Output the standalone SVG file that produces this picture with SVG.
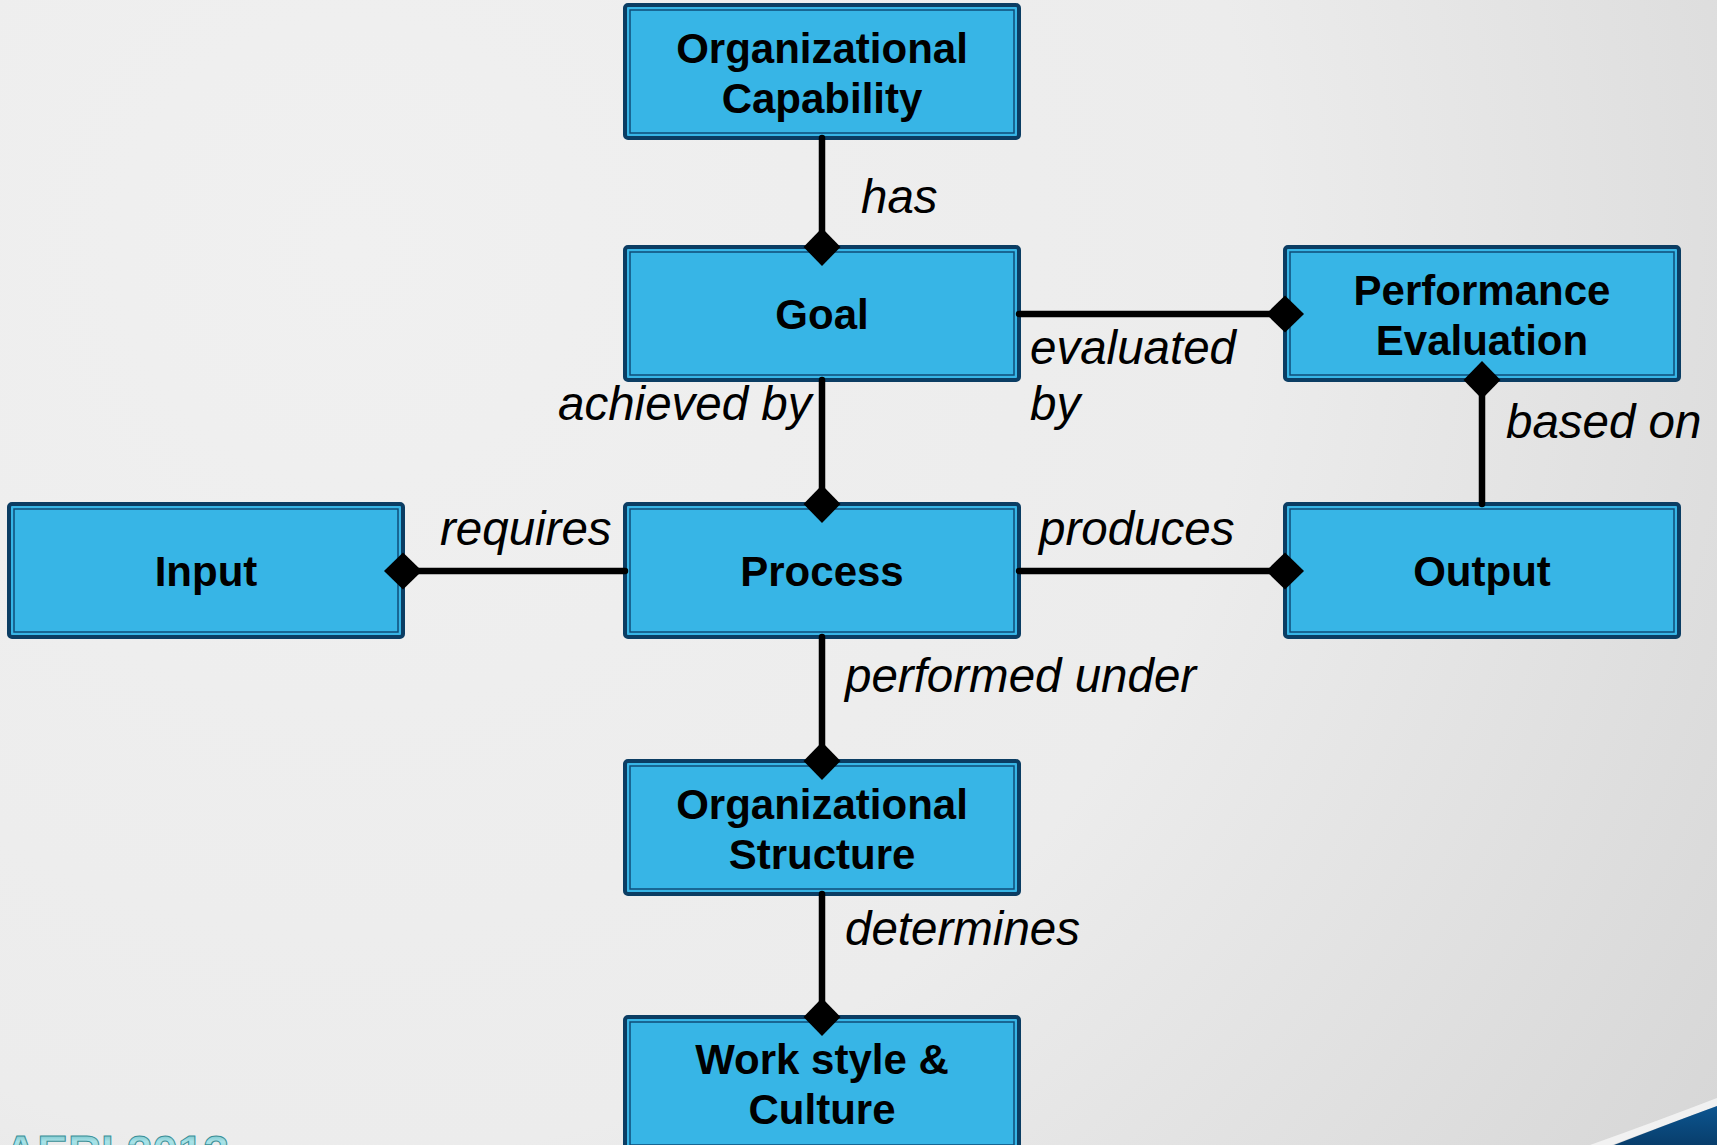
<svg xmlns="http://www.w3.org/2000/svg" width="1717" height="1145" viewBox="0 0 1717 1145">
  <defs>
    <radialGradient id="bg" cx="350" cy="250" r="1650" gradientUnits="userSpaceOnUse">
      <stop offset="0" stop-color="#f0f0f0"/>
      <stop offset="0.55" stop-color="#ececec"/>
      <stop offset="1" stop-color="#d6d6d6"/>
    </radialGradient>
    <linearGradient id="swoosh" x1="0" y1="0" x2="0" y2="1">
      <stop offset="0" stop-color="#0c5590"/>
      <stop offset="1" stop-color="#083e6c"/>
    </linearGradient>
    <linearGradient id="brand" x1="0" y1="0" x2="0" y2="1">
      <stop offset="0" stop-color="#3f9fa8"/>
      <stop offset="0.3" stop-color="#a9e3e8"/>
      <stop offset="1" stop-color="#4fb3bc"/>
    </linearGradient>
    <marker id="dia" viewBox="-20 -20 40 40" refX="0" refY="0" markerWidth="40" markerHeight="40" markerUnits="userSpaceOnUse" orient="auto">
      <path d="M-19,0 L0,-18.5 L19,0 L0,18.5 Z" fill="#000"/>
    </marker>
    <style>
      .box { fill: #37b5e6; stroke: #0b3d63; stroke-width: 4; }
      .inner { fill: none; stroke: #0f4c78; stroke-width: 1.5; }
      .title { font-family: "Liberation Sans", Arial, sans-serif; font-weight: bold; font-size: 42px; fill: #000; text-anchor: middle; }
      .conn { fill: none; stroke: #000; stroke-width: 6.5; stroke-linecap: round; marker-end: url(#dia); }
      .lbl { font-family: "Liberation Sans", Arial, sans-serif; font-style: italic; font-size: 47.5px; fill: #000; }
    </style>
  </defs>

  <!-- backdrop -->
  <rect x="0" y="0" width="1717" height="1145" fill="url(#bg)"/>
  <path d="M1590,1145 Q1660,1120 1717,1098 L1717,1106 Q1665,1125 1612,1145 Z" fill="#f7f7f7" opacity="0.8"/>
  <path d="M1614,1145 Q1668,1124 1717,1106 L1717,1145 Z" fill="url(#swoosh)"/>
  <text x="4" y="1168" font-family="'Liberation Sans', Arial, sans-serif" font-weight="bold" font-size="46" fill="url(#brand)" stroke="#3a8f97" stroke-width="1">AERI 2013</text>

  <!-- nodes -->
  <g id="node-org-capability">
    <rect class="box" x="625" y="5" width="394" height="133" rx="3"/>
    <rect class="inner" x="630" y="10" width="384" height="123"/>
    <text class="title" x="822" y="63">Organizational</text>
    <text class="title" x="822" y="113">Capability</text>
  </g>
  <g id="node-goal">
    <rect class="box" x="625" y="247" width="394" height="133" rx="3"/>
    <rect class="inner" x="630" y="252" width="384" height="123"/>
    <text class="title" x="822" y="329">Goal</text>
  </g>
  <g id="node-performance-evaluation">
    <rect class="box" x="1285" y="247" width="394" height="133" rx="3"/>
    <rect class="inner" x="1290" y="252" width="384" height="123"/>
    <text class="title" x="1482" y="305">Performance</text>
    <text class="title" x="1482" y="355">Evaluation</text>
  </g>
  <g id="node-input">
    <rect class="box" x="9" y="504" width="394" height="133" rx="3"/>
    <rect class="inner" x="14" y="509" width="384" height="123"/>
    <text class="title" x="206" y="586">Input</text>
  </g>
  <g id="node-process">
    <rect class="box" x="625" y="504" width="394" height="133" rx="3"/>
    <rect class="inner" x="630" y="509" width="384" height="123"/>
    <text class="title" x="822" y="586">Process</text>
  </g>
  <g id="node-output">
    <rect class="box" x="1285" y="504" width="394" height="133" rx="3"/>
    <rect class="inner" x="1290" y="509" width="384" height="123"/>
    <text class="title" x="1482" y="586">Output</text>
  </g>
  <g id="node-org-structure">
    <rect class="box" x="625" y="761" width="394" height="133" rx="3"/>
    <rect class="inner" x="630" y="766" width="384" height="123"/>
    <text class="title" x="822" y="819">Organizational</text>
    <text class="title" x="822" y="869">Structure</text>
  </g>
  <g id="node-work-style">
    <rect class="box" x="625" y="1017" width="394" height="133" rx="3"/>
    <rect class="inner" x="630" y="1022" width="384" height="123"/>
    <text class="title" x="822" y="1074">Work style &amp;</text>
    <text class="title" x="822" y="1124">Culture</text>
  </g>

  <!-- connectors -->
  <g id="connectors">
    <path class="conn" d="M822,138 L822,247"/>
    <path class="conn" d="M1019,314 L1285,314"/>
    <path class="conn" d="M822,380 L822,504"/>
    <path class="conn" d="M1482,504 L1482,380"/>
    <path class="conn" d="M625,571 L403,571"/>
    <path class="conn" d="M1019,571 L1285,571"/>
    <path class="conn" d="M822,637 L822,761"/>
    <path class="conn" d="M822,894 L822,1017"/>
  </g>

  <!-- connector labels -->
  <g id="labels">
    <text class="lbl" x="861" y="213">has</text>
    <text class="lbl" x="1030" y="364">evaluated</text>
    <text class="lbl" x="1030" y="420">by</text>
    <text class="lbl" x="558" y="420">achieved by</text>
    <text class="lbl" x="1506" y="438">based on</text>
    <text class="lbl" x="440" y="545">requires</text>
    <text class="lbl" x="1039" y="545">produces</text>
    <text class="lbl" x="845" y="692">performed under</text>
    <text class="lbl" x="845" y="945">determines</text>
  </g>
</svg>
